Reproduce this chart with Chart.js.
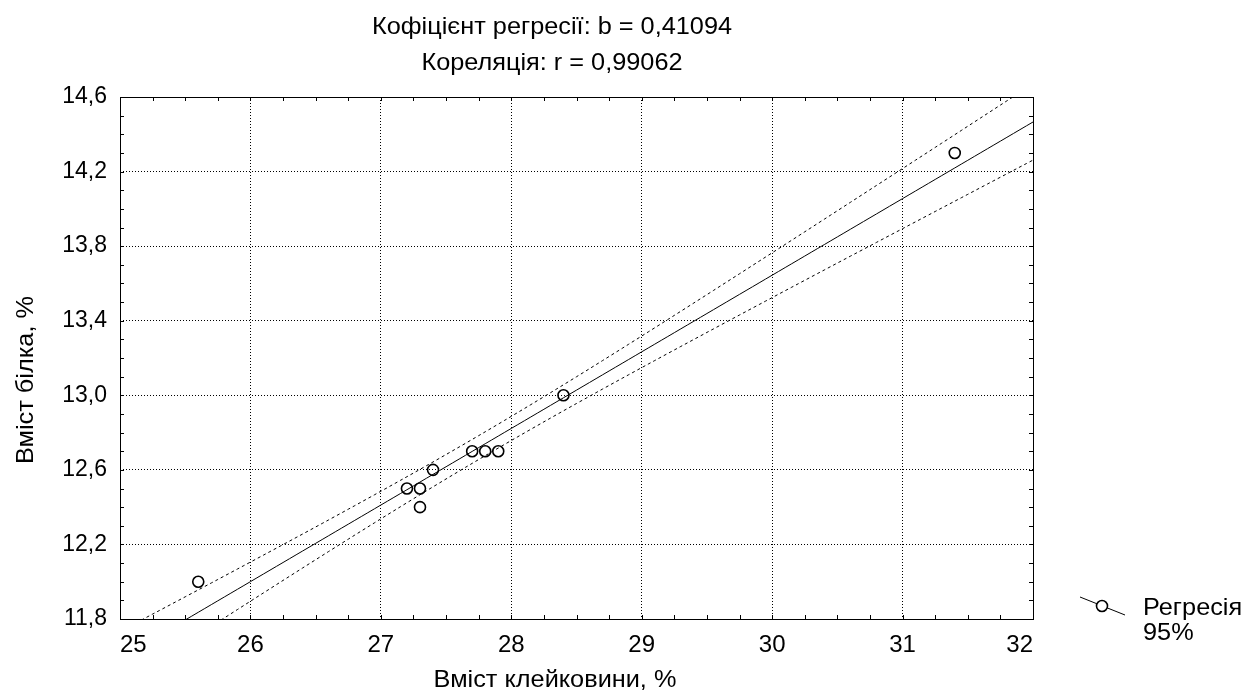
<!DOCTYPE html>
<html>
<head>
<meta charset="utf-8">
<script src="https://cdn.jsdelivr.net/npm/chart.js@4/dist/chart.umd.min.js"></script>
<style>
	html, body { margin: 0; padding: 0; background: #fff; }
	#wrap { width: 1245px; height: 693px; }
</style>
</head>
<body>
<div id="wrap"><canvas id="regChart" width="1245" height="693"></canvas></div>
<script>
// Вміст клейковини (x) та вміст білка (y)
const glutenValues = [25.6, 27.2, 27.3, 27.3, 27.4, 27.7, 27.8, 27.9, 28.4, 31.4];
const proteinValues = [12.0, 12.5, 12.5, 12.4, 12.6, 12.7, 12.7, 12.7, 13.0, 14.3];

const xTicks = [25, 26, 27, 28, 29, 30, 31, 32];
const yTicks = [11.8, 12.2, 12.6, 13.0, 13.4, 13.8, 14.2, 14.6];

const titleLines = ['Кофіцієнт регресії: b = 0,41094', 'Кореляція: r = 0,99062'];
const xTitle = 'Вміст клейковини, %';
const yTitle = 'Вміст білка, %';
const legendLabels = ['Регресія', '95%'];

const FONT = "'Liberation Sans', Arial, sans-serif";
const T_95 = 2.306; // t(0.975, n - 2 = 8)

// regression line and 95% band computed from the data
const n = glutenValues.length;
const meanX = glutenValues.reduce((s, v) => s + v, 0) / n;
const meanY = proteinValues.reduce((s, v) => s + v, 0) / n;
let sxx = 0, sxy = 0, syy = 0;
for (let i = 0; i < n; i++) {
	sxx += (glutenValues[i] - meanX) ** 2;
	sxy += (glutenValues[i] - meanX) * (proteinValues[i] - meanY);
	syy += (proteinValues[i] - meanY) ** 2;
}
const slope = sxy / sxx;
const intercept = meanY - slope * meanX;
const resid = Math.sqrt((syy - slope * sxy) / (n - 2));

const fitLine = [];
const upperBand = [];
const lowerBand = [];
for (let k = 0; k <= 140; k++) {
	const x = xTicks[0] + k * 0.05;
	const y = intercept + slope * x;
	const h = T_95 * resid * Math.sqrt(1 / n + (x - meanX) ** 2 / sxx);
	fitLine.push({ x: x, y: y });
	upperBand.push({ x: x, y: y + h });
	lowerBand.push({ x: x, y: y - h });
}

const points = glutenValues.map((x, i) => ({ x: x, y: proteinValues[i] }));

// text slightly stretched sideways, like the original export
function wideText(ctx, text, x, y, stretch) {
	ctx.save();
	ctx.translate(x, y);
	ctx.scale(stretch, 1);
	ctx.fillText(text, 0, 0);
	ctx.restore();
}

// frame, inner minor ticks, titles and legend
const decorPlugin = {
	id: 'decor',
	afterDraw(chart) {
		const ctx = chart.ctx;
		const a = chart.chartArea;
		const xs = chart.scales.x;
		const ys = chart.scales.y;
		ctx.save();
		ctx.strokeStyle = '#000';
		ctx.lineWidth = 1;
		ctx.strokeRect(Math.round(a.left) + 0.5, Math.round(a.top) + 0.5,
			Math.round(a.right - a.left), Math.round(a.bottom - a.top));

		ctx.beginPath();
		for (let v = xTicks[0]; v <= xTicks[xTicks.length - 1] + 1e-6; v += 0.25) {
			const px = Math.round(xs.getPixelForValue(v)) + 0.5;
			ctx.moveTo(px, a.bottom); ctx.lineTo(px, a.bottom - 4);
			ctx.moveTo(px, a.top); ctx.lineTo(px, a.top + 4);
		}
		for (let v = yTicks[0]; v <= yTicks[yTicks.length - 1] + 1e-6; v += 0.1) {
			const py = Math.round(ys.getPixelForValue(v)) + 0.5;
			ctx.moveTo(a.left, py); ctx.lineTo(a.left + 4, py);
			ctx.moveTo(a.right, py); ctx.lineTo(a.right - 4, py);
		}
		ctx.stroke();

		ctx.fillStyle = '#000';
		ctx.textAlign = 'center';
		ctx.textBaseline = 'alphabetic';
		ctx.font = '23px ' + FONT;
		wideText(ctx, titleLines[0], 552, 34, 1.1);
		wideText(ctx, titleLines[1], 552, 70, 1.1);

		wideText(ctx, xTitle, 555, 687, 1.1);

		ctx.save();
		ctx.translate(33, 380);
		ctx.rotate(-Math.PI / 2);
		wideText(ctx, yTitle, 0, 0, 1.1);
		ctx.restore();

		// legend
		ctx.beginPath();
		ctx.moveTo(1080, 597);
		ctx.lineTo(1125, 615);
		ctx.stroke();
		ctx.beginPath();
		ctx.arc(1102, 606, 5.5, 0, Math.PI * 2);
		ctx.fillStyle = '#fff';
		ctx.fill();
		ctx.lineWidth = 1.6;
		ctx.stroke();
		ctx.fillStyle = '#000';
		ctx.textAlign = 'left';
		wideText(ctx, legendLabels[0], 1143, 615, 1.1);
		wideText(ctx, legendLabels[1], 1143, 640, 1.1);
		ctx.restore();
	}
};

document.addEventListener('DOMContentLoaded', function() {
	const ctx = document.getElementById('regChart').getContext('2d');
	new Chart(ctx, {
		type: 'scatter',
		data: {
			datasets: [
				{
					label: 'points',
					data: points,
					pointStyle: 'circle',
					pointRadius: 5.5,
					pointBorderWidth: 1.6,
					pointBorderColor: '#000',
					pointBackgroundColor: 'rgba(0,0,0,0)'
				},
				{
					label: 'fit',
					data: fitLine,
					showLine: true,
					pointRadius: 0,
					borderColor: '#000',
					borderWidth: 1
				},
				{
					label: 'upper',
					data: upperBand,
					showLine: true,
					pointRadius: 0,
					borderColor: '#000',
					borderWidth: 1,
					borderDash: [3, 3]
				},
				{
					label: 'lower',
					data: lowerBand,
					showLine: true,
					pointRadius: 0,
					borderColor: '#000',
					borderWidth: 1,
					borderDash: [3, 3]
				}
			]
		},
		options: {
			responsive: false,
			animation: false,
			events: [],
			layout: { padding: { top: 97, right: 212, left: 0, bottom: 0 } },
			plugins: {
				legend: { display: false },
				tooltip: { enabled: false }
			},
			scales: {
				x: {
					type: 'linear',
					min: 25,
					max: 32,
					afterBuildTicks(scale) {
						scale.ticks = xTicks.map(v => ({ value: v }));
					},
					afterFit(scale) { scale.height = 74; },
					grid: {
						drawTicks: false,
						color: c => (c.index > 0 && c.index < xTicks.length - 1) ? '#000' : 'rgba(0,0,0,0)',
						lineWidth: 1
					},
					border: { display: false, dash: [1, 2] },
					ticks: {
						align: 'inner',
						padding: 12,
						color: '#000',
						font: { family: FONT, size: 24 },
						callback: v => String(v)
					}
				},
				y: {
					type: 'linear',
					min: 11.8,
					max: 14.6,
					afterBuildTicks(scale) {
						scale.ticks = yTicks.map(v => ({ value: v }));
					},
					afterFit(scale) { scale.width = 120; },
					grid: {
						drawTicks: false,
						color: c => (c.index > 0 && c.index < yTicks.length - 1) ? '#000' : 'rgba(0,0,0,0)',
						lineWidth: 1
					},
					border: { display: false, dash: [1, 2] },
					ticks: {
						padding: 13,
						color: '#000',
						font: { family: FONT, size: 23 },
						callback: v => v.toFixed(1).replace('.', ',')
					}
				}
			}
		},
		plugins: [decorPlugin]
	});
});
</script>
</body>
</html>
